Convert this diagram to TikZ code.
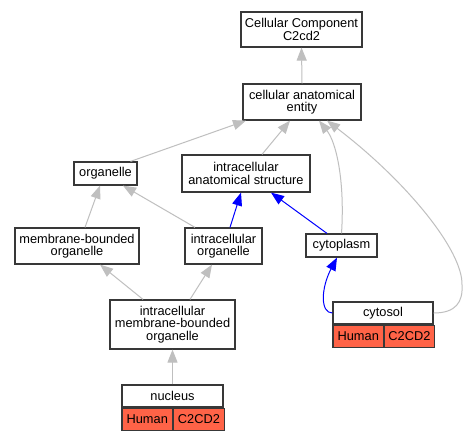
\documentclass[tikz,border=0pt]{standalone}
\usepackage{fontspec}
\setmainfont{Liberation Sans}
\usetikzlibrary{arrows.meta}
\definecolor{tomato}{HTML}{FF6347}

\begin{document}
\begin{tikzpicture}[x=1pt, y=1pt,
	term/.style={draw=black!78, line width=1.2pt, fill=white, align=center,
		inner sep=0pt, font=\fontsize{12.8}{12.5}\selectfont},
	cell/.style={term, fill=tomato, minimum width=50.5pt, minimum height=22pt, anchor=north west},
	isa/.style={draw=gray!50, line width=1pt, -{Triangle[length=13pt,width=10pt]}},
	partof/.style={isa, draw=blue}]
	\fill[white] (0,0) rectangle (470,-440);
	\useasboundingbox (0,0) rectangle (470,-440);
	\node[term, minimum width=121pt, minimum height=35pt] (cc) at (301.5,-29.5) {Cellular Component\\C2cd2};
	\node[term, minimum width=118pt, minimum height=36pt] (cae) at (302,-102) {cellular anatomical\\entity};
	\node[term, minimum width=63pt, minimum height=23pt] (organelle) at (105.5,-173.5) {organelle};
	\node[term, minimum width=128pt, minimum height=37pt] (ias) at (246,-173.5) {intracellular\\anatomical structure};
	\node[term, minimum width=124pt, minimum height=36pt] (mbo) at (77,-246) {membrane-bounded\\organelle};
	\node[term, minimum width=77pt, minimum height=36pt] (io) at (223.5,-246) {intracellular\\organelle};
	\node[term, minimum width=71pt, minimum height=23pt] (cytoplasm) at (341.5,-245.5) {cytoplasm};
	\node[term, minimum width=125pt, minimum height=49pt] (imbo) at (172.5,-324.5) {intracellular\\membrane-bounded\\organelle};
	% annotated terms
	\node[term, minimum width=101pt, minimum height=22pt] (nucleus) at (172.5,-396) {nucleus};
	\node[cell] (nucHuman) at (nucleus.south west) {Human};
	\node[cell] (nucGene) at (nucHuman.north east) {C2CD2};
	\node[term, minimum width=100pt, minimum height=22pt] (cytosol) at (383,-313) {cytosol};
	\node[cell] (cytHuman) at (cytosol.south west) {Human};
	\node[cell, minimum width=49.5pt] (cytGene) at (cytHuman.north east) {C2CD2};
	% is_a
	\draw[isa] (cae.north) -- (cc.south);
	\draw[isa] ([xshift=25pt]organelle.north) -- ([xshift=-56pt]cae.south);
	\draw[isa] ([xshift=16pt]ias.north) -- ([xshift=-12pt]cae.south);
	\draw[isa] (cytoplasm.north) .. controls (345,-180) and (336,-142) .. ([xshift=17pt]cae.south);
	\draw[isa] (cytosol.east) .. controls (456,-313) and (463,-302) .. (462,-285)
		.. controls (463,-250) and (405,-180) .. ([xshift=25pt]cae.south);
	\draw[isa] ([xshift=8pt]mbo.north) -- ([xshift=-5.5pt]organelle.south);
	\draw[isa] ([xshift=-28.5pt]io.north) -- ([xshift=17.5pt]organelle.south);
	\draw[isa] ([xshift=-29.5pt]imbo.north) -- ([xshift=23pt]mbo.south);
	\draw[isa] ([xshift=17.5pt]imbo.north) -- ([xshift=-11.5pt]io.south);
	\draw[isa] (nucleus.north) -- (imbo.south);
	% part_of
	\draw[partof] ([xshift=6.5pt]io.north) -- ([xshift=-5pt]ias.south);
	\draw[partof] ([xshift=-14.5pt]cytoplasm.north) -- ([xshift=25pt]ias.south);
	\draw[partof] (cytosol.west) .. controls (320,-313) and (321,-288) .. ([xshift=-4.5pt]cytoplasm.south);
\end{tikzpicture}
\end{document}
